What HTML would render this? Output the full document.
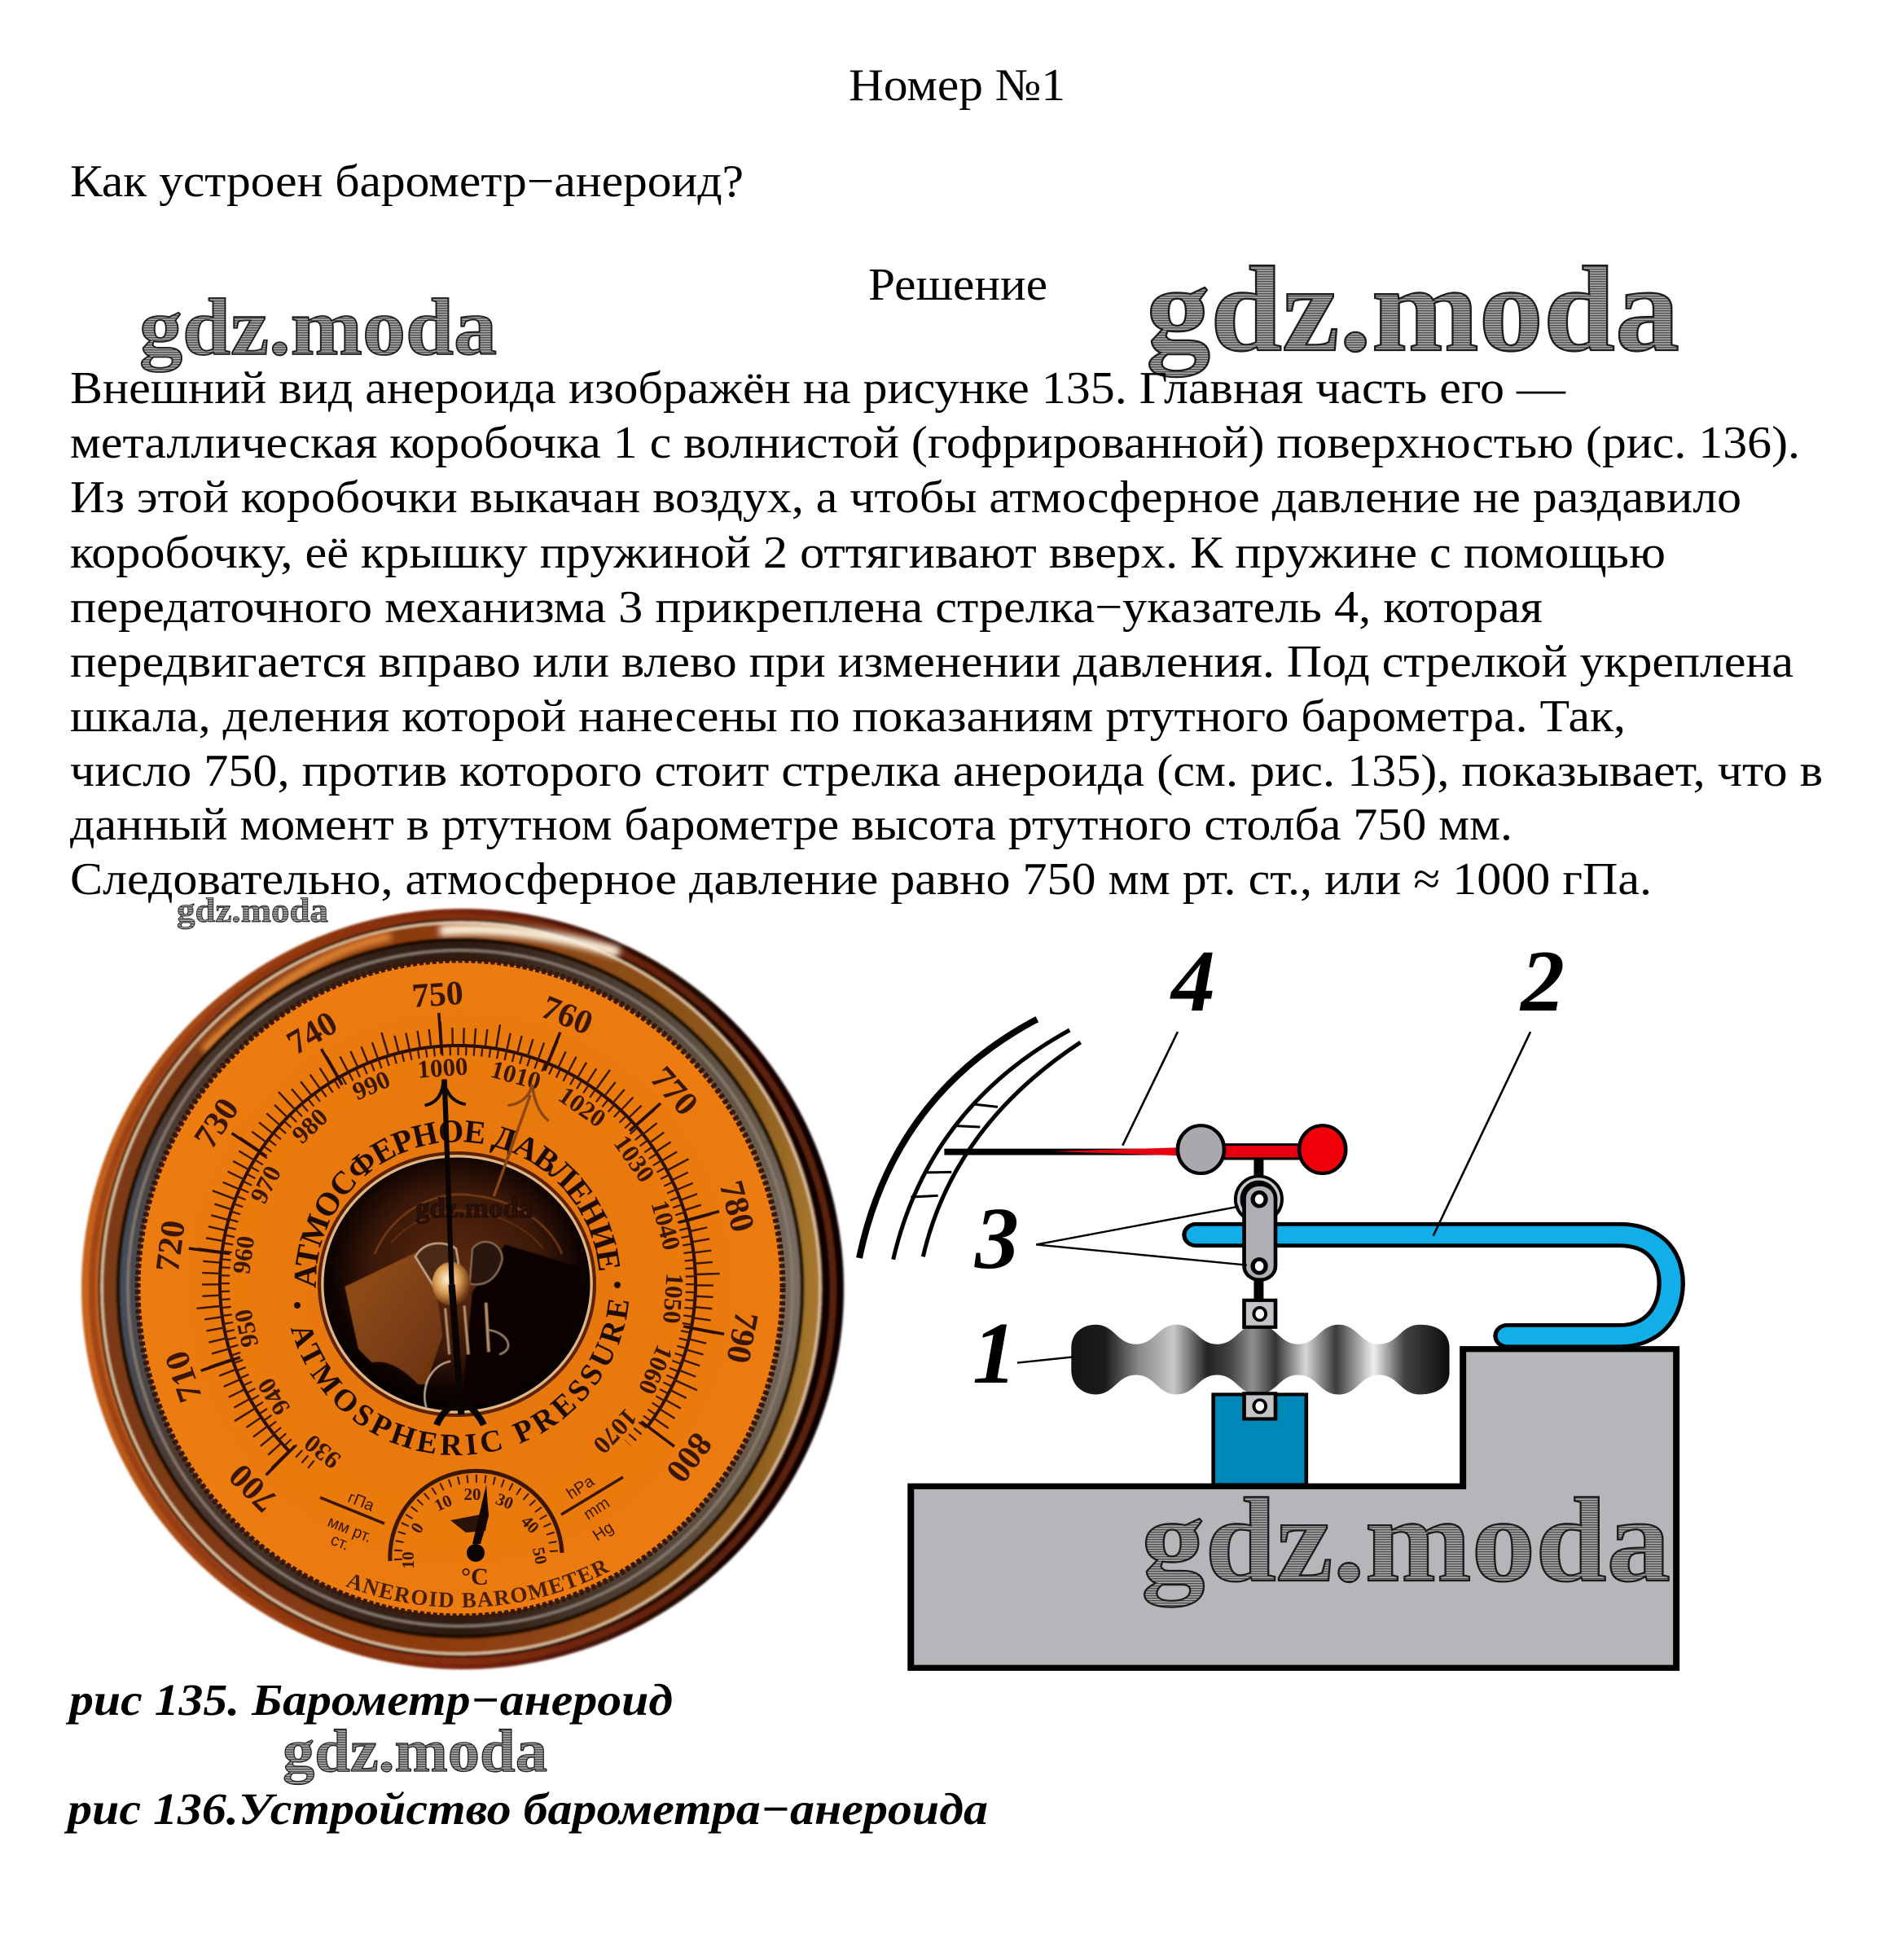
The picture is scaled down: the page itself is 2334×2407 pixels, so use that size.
<!DOCTYPE html>
<html lang="ru"><head><meta charset="utf-8"><title>Номер №1</title>
<style>
html,body{margin:0;padding:0;background:#fff}
svg{display:block}
.t{font-family:"Liberation Serif",serif;font-size:56px;fill:#000}
.c{font-family:"Liberation Serif",serif;font-size:55px;font-weight:bold;font-style:italic;fill:#000}
.n{font-family:"Liberation Serif",serif;font-size:108px;font-weight:bold;font-style:italic;fill:#000}
.w{font-family:"Liberation Serif",serif;font-weight:bold;fill:url(#h);stroke:#1c1c1c;stroke-width:1.8}
.mm{font-family:"Liberation Serif",serif;font-size:42px;font-weight:bold;fill:#3a1606;text-anchor:middle}
.hp{font-family:"Liberation Serif",serif;font-size:31px;font-weight:bold;fill:#3a1606;text-anchor:middle}
.th{font-family:"Liberation Serif",serif;font-size:21px;font-weight:bold;fill:#3a1606;text-anchor:middle}
.sm{font-family:"Liberation Sans",sans-serif;font-size:20px;fill:#3a1606;text-anchor:middle}
.arc{font-family:"Liberation Serif",serif;font-weight:bold;fill:#1e0c04}
</style></head><body>
<svg xmlns="http://www.w3.org/2000/svg" width="2334" height="2407" viewBox="0 0 2334 2407">
<defs>
<pattern id="h" width="4" height="3" patternUnits="userSpaceOnUse"><rect width="4" height="3" fill="#a8a8a8"/><rect width="4" height="1.4" fill="#4e4e4e"/></pattern>
<filter id="b1" x="-5%" y="-5%" width="110%" height="110%"><feGaussianBlur stdDeviation="1.2"/></filter>
<filter id="b4" x="-20%" y="-100%" width="140%" height="300%"><feGaussianBlur stdDeviation="4"/></filter>
<linearGradient id="f1" x1="0" y1="0" x2="1" y2="0"><stop offset="0" stop-color="#c8641c"/><stop offset=".12" stop-color="#a84c16"/><stop offset=".5" stop-color="#7a240a"/><stop offset=".8" stop-color="#1c0705"/><stop offset="1" stop-color="#0c0302"/></linearGradient>
<linearGradient id="f2" x1="0" y1="0" x2="1" y2="0"><stop offset="0" stop-color="#7a3a14"/><stop offset=".5" stop-color="#8e3c10"/><stop offset=".9" stop-color="#8a5a1c"/><stop offset="1" stop-color="#a87a30"/></linearGradient>
<linearGradient id="f3" x1="0" y1="0" x2="1" y2="0"><stop offset="0" stop-color="#445060"/><stop offset=".08" stop-color="#4c3a30"/><stop offset=".5" stop-color="#2c1a10"/><stop offset=".95" stop-color="#6c5e50"/><stop offset="1" stop-color="#7c7064"/></linearGradient>
<radialGradient id="d" cx=".5" cy=".5" r=".55"><stop offset="0" stop-color="#e4760e"/><stop offset=".7" stop-color="#ea7a0c"/><stop offset=".92" stop-color="#ec7c10"/><stop offset="1" stop-color="#c85e06"/></radialGradient>
<radialGradient id="win" cx=".5" cy=".45" r=".52"><stop offset="0" stop-color="#5c2a10"/><stop offset=".62" stop-color="#3a1808"/><stop offset=".88" stop-color="#100402"/><stop offset="1" stop-color="#060100"/></radialGradient>
<linearGradient id="pl" x1="0" y1="0" x2="1" y2="1"><stop offset="0" stop-color="#96501a"/><stop offset="1" stop-color="#6a3210"/></linearGradient>
<radialGradient id="hub" cx=".4" cy=".4" r=".6"><stop offset="0" stop-color="#fff4d8"/><stop offset=".55" stop-color="#d89a50"/><stop offset="1" stop-color="#6a3410"/></radialGradient>
<linearGradient id="box" x1="415" y1="0" x2="1115" y2="0" gradientUnits="userSpaceOnUse">
<stop offset="0" stop-color="#141414"/><stop offset=".09" stop-color="#1c1c1c"/><stop offset=".18" stop-color="#8a8a8a"/><stop offset=".27" stop-color="#c8c8c8"/><stop offset=".36" stop-color="#222"/><stop offset=".42" stop-color="#444"/><stop offset=".48" stop-color="#909090"/><stop offset=".54" stop-color="#333"/><stop offset=".62" stop-color="#d8d8d8"/><stop offset=".7" stop-color="#3a3a3a"/><stop offset=".8" stop-color="#f0f0f0"/><stop offset=".88" stop-color="#444"/><stop offset="1" stop-color="#0c0c0c"/>
</linearGradient>
<path id="ptop" d="M388 1582A174 174 0 1 1 733 1608"/>
<path id="pbot" d="M357 1631A212 212 0 1 0 751 1480"/>
<path id="pan" d="M368 1921A396 396 0 0 0 764 1921"/>
</defs>
<rect width="2334" height="2407" fill="#fff"/>

<!-- watermarks top -->
<text class="w" x="171" y="435" font-size="100" textLength="439" lengthAdjust="spacingAndGlyphs">gdz.moda</text>
<text class="w" x="1407" y="430" font-size="150" textLength="655" lengthAdjust="spacingAndGlyphs" style="stroke-width:2.2">gdz.moda</text>

<!-- text -->
<text class="t" x="1042" y="123" textLength="266" lengthAdjust="spacingAndGlyphs">Номер №1</text>
<text class="t" x="86" y="241" textLength="827" lengthAdjust="spacingAndGlyphs">Как устроен барометр−анероид?</text>
<text class="t" x="1066" y="368" textLength="220" lengthAdjust="spacingAndGlyphs">Решение</text>
<text class="t" x="86" y="495" textLength="1836" lengthAdjust="spacingAndGlyphs">Внешний вид анероида изображён на рисунке 135. Главная часть его —</text>
<text class="t" x="86" y="562" textLength="2124" lengthAdjust="spacingAndGlyphs">металлическая коробочка 1 с волнистой (гофрированной) поверхностью (рис. 136).</text>
<text class="t" x="86" y="629" textLength="2052" lengthAdjust="spacingAndGlyphs">Из этой коробочки выкачан воздух, а чтобы атмосферное давление не раздавило</text>
<text class="t" x="86" y="697" textLength="1959" lengthAdjust="spacingAndGlyphs">коробочку, её крышку пружиной 2 оттягивают вверх. К пружине с помощью</text>
<text class="t" x="86" y="764" textLength="1808" lengthAdjust="spacingAndGlyphs">передаточного механизма 3 прикреплена стрелка−указатель 4, которая</text>
<text class="t" x="86" y="831" textLength="2116" lengthAdjust="spacingAndGlyphs">передвигается вправо или влево при изменении давления. Под стрелкой укреплена</text>
<text class="t" x="86" y="898" textLength="1910" lengthAdjust="spacingAndGlyphs">шкала, деления которой нанесены по показаниям ртутного барометра. Так,</text>
<text class="t" x="86" y="965" textLength="2152" lengthAdjust="spacingAndGlyphs">число 750, против которого стоит стрелка анероида (см. рис. 135), показывает, что в</text>
<text class="t" x="86" y="1031" textLength="1771" lengthAdjust="spacingAndGlyphs">данный момент в ртутном барометре высота ртутного столба 750 мм.</text>
<text class="t" x="86" y="1098" textLength="1942" lengthAdjust="spacingAndGlyphs">Следовательно, атмосферное давление равно 750 мм рт. ст., или ≈ 1000 гПа.</text>

<text class="w" x="217" y="1132" font-size="42" textLength="186" lengthAdjust="spacingAndGlyphs" style="stroke-width:.8">gdz.moda</text>

<!-- barometer frame -->
<g filter="url(#b1)">
<ellipse cx="568" cy="1583" rx="468" ry="467" fill="url(#f1)"/>
<ellipse cx="568" cy="1583" rx="455" ry="457" fill="none" stroke="#8a3410" stroke-width="8" opacity=".6"/>
<ellipse cx="566" cy="1582" rx="441" ry="449" fill="url(#f2)" stroke="#e4c4a0" stroke-width="3"/>
<ellipse cx="566" cy="1582" rx="444" ry="452" fill="none" stroke="#2a0e06" stroke-width="3"/>
<path d="M250 1290Q370 1170 480 1150" fill="none" stroke="#e88a34" stroke-width="10" filter="url(#b4)"/>
<path d="M540 1143Q640 1135 760 1170" fill="none" stroke="#fff4e0" stroke-width="13" filter="url(#b4)"/>
<path d="M300 1910Q560 2060 830 1910" fill="none" stroke="#b44a14" stroke-width="10" filter="url(#b4)"/>
<ellipse cx="565" cy="1582" rx="420" ry="428" fill="url(#f3)" stroke="#1e0a04" stroke-width="5"/>
<ellipse cx="565" cy="1582" rx="408" ry="415" fill="none" stroke="#8a7c70" stroke-width="3"/>
</g>
<ellipse cx="565" cy="1582" rx="395" ry="402" fill="url(#d)"/>
<ellipse cx="565" cy="1582" rx="396" ry="403" fill="none" stroke="#3a1606" stroke-width="7" stroke-dasharray="5 3"/>

<!-- scales -->
<g fill="none" stroke="#3a1606">
<path d="M355.5 1782.5A292 292 0 1 1 795.2 1751.7" stroke-width="4" stroke="#2a0e04"/>
<path d="M347.7 1790.3A303 303 0 1 1 804 1758.3" pathLength="262" stroke-width="22" stroke-dasharray=".45 2.17"/>
<path d="M344.9 1793.1A307 307 0 1 1 807.2 1760.8" pathLength="262" stroke-width="30" stroke-dasharray=".45 12.65"/>
<path d="M382.8 1798.9A286 286 0 1 1 770.5 1771.8" pathLength="274.4" stroke-width="12" stroke-dasharray=".45 1.51"/>
<g transform="translate(562,1576)" stroke-width="3.5" stroke="#2a0e04">
<path d="M0-333V-282" transform="rotate(-135)"/><path d="M0-333V-282" transform="rotate(-108.8)"/><path d="M0-333V-282" transform="rotate(-82.6)"/><path d="M0-333V-282" transform="rotate(-56.4)"/><path d="M0-333V-282" transform="rotate(-30.2)"/><path d="M0-333V-282" transform="rotate(-4)"/><path d="M0-333V-282" transform="rotate(22.2)"/><path d="M0-333V-282" transform="rotate(48.4)"/><path d="M0-333V-282" transform="rotate(74.6)"/><path d="M0-333V-282" transform="rotate(100.8)"/><path d="M0-333V-282" transform="rotate(127)"/>
</g>
<path d="M393 1839L472 1871M689 1860L765 1814" stroke-width="3.5"/>
</g>
<g transform="translate(562,1576)">
<text class="mm" y="-342" transform="rotate(-135)">700</text>
<text class="mm" y="-342" transform="rotate(-108.8)">710</text>
<text class="mm" y="-342" transform="rotate(-82.6)">720</text>
<text class="mm" y="-342" transform="rotate(-56.4)">730</text>
<text class="mm" y="-342" transform="rotate(-30.2)">740</text>
<text class="mm" y="-342" transform="rotate(-4)">750</text>
<text class="mm" y="-342" transform="rotate(22.2)">760</text>
<text class="mm" y="-342" transform="rotate(48.4)">770</text>
<text class="mm" y="-342" transform="rotate(74.6)">780</text>
<text class="mm" y="-342" transform="rotate(100.8)">790</text>
<text class="mm" y="-342" transform="rotate(127)">800</text>
<text class="hp" y="-255" transform="rotate(-141.2)">930</text>
<text class="hp" y="-255" transform="rotate(-121.6)">940</text>
<text class="hp" y="-255" transform="rotate(-102)">950</text>
<text class="hp" y="-255" transform="rotate(-82.4)">960</text>
<text class="hp" y="-255" transform="rotate(-62.8)">970</text>
<text class="hp" y="-255" transform="rotate(-43.2)">980</text>
<text class="hp" y="-255" transform="rotate(-23.6)">990</text>
<text class="hp" y="-255" transform="rotate(-4)">1000</text>
<text class="hp" y="-255" transform="rotate(15.6)">1010</text>
<text class="hp" y="-255" transform="rotate(35.2)">1020</text>
<text class="hp" y="-255" transform="rotate(54.8)">1030</text>
<text class="hp" y="-255" transform="rotate(74.4)">1040</text>
<text class="hp" y="-255" transform="rotate(94)">1050</text>
<text class="hp" y="-255" transform="rotate(113.6)">1060</text>
<text class="hp" y="-255" transform="rotate(133.2)">1070</text>
</g>
<text class="sm" transform="translate(441,1850) rotate(22)">гПа</text>
<text class="sm" transform="translate(427,1884) rotate(22)">мм рт.</text>
<text class="sm" transform="translate(415,1900) rotate(22)">ст.</text>
<text class="sm" transform="translate(716,1832) rotate(-33)">hPa</text>
<text class="sm" transform="translate(736,1858) rotate(-33)">mm</text>
<text class="sm" transform="translate(744,1886) rotate(-33)">Hg</text>

<!-- arc text -->
<text class="arc" font-size="40" letter-spacing="-1.2"><textPath href="#ptop">АТМОСФЕРНОЕ ДАВЛЕНИЕ</textPath></text>
<text class="arc" font-size="38" letter-spacing="5"><textPath href="#pbot">ATMOSPHERIC PRESSURE</textPath></text>
<circle cx="365" cy="1603" r="4" fill="#1e0c04"/><circle cx="758" cy="1578" r="4" fill="#1e0c04"/>
<text class="arc" font-size="27" letter-spacing="1.5" style="fill:#4a2008"><textPath href="#pan" startOffset="62">ANEROID BAROMETER</textPath></text>

<!-- window -->
<ellipse cx="561" cy="1577" rx="169" ry="161" fill="none" stroke="#5a2206" stroke-width="4"/>
<ellipse cx="561" cy="1577" rx="165" ry="157" fill="url(#win)" stroke="#dcb890" stroke-width="3"/>
<g transform="translate(380,1400) scale(.3333)" filter="url(#b1)">
<path d="M240 420C300 280 420 210 540 200C720 200 880 290 930 420" fill="none" stroke="#8a4a20" stroke-width="8" opacity=".7"/>
<path d="M300 380C360 310 440 270 540 260C680 260 800 320 860 400" fill="none" stroke="#7a3e18" stroke-width="6" opacity=".6"/>
<path d="M130 540L390 415L470 570L490 720L430 900L400 900C340 840 290 810 230 820L180 770Z" fill="url(#pl)"/>
<path d="M720 385L1000 470L990 700L940 780L800 860L740 960L560 980L600 560Z" fill="#0a0302"/>
<path d="M390 430C420 370 500 370 540 400L560 520L470 560Z" fill="#4a2a14" stroke="#c8a888" stroke-width="7"/>
<path d="M600 400C640 350 710 380 710 440C690 520 640 540 590 530Z" fill="#2a1408" stroke="#8a7058" stroke-width="6"/>
<path d="M500 620L515 790M570 610L585 790M650 600L660 780" stroke="#b08a6a" stroke-width="10" fill="none"/>
<path d="M660 700C730 710 760 770 700 790" stroke="#a08870" stroke-width="6" fill="none"/>
<path d="M520 815C440 830 410 920 430 985" stroke="#c8b098" stroke-width="7" fill="none"/>
<ellipse cx="522" cy="530" rx="70" ry="80" fill="url(#hub)"/>
</g>
<text class="w" x="510" y="1495" font-size="35" textLength="144" lengthAdjust="spacingAndGlyphs" style="fill:#2a120a;stroke:#140602;stroke-width:.6">gdz.moda</text>

<!-- needles -->
<g transform="translate(0,1080) scale(.689,.638)" fill="none">
<path d="M945 415L880 610" stroke="#8a4612" stroke-width="5"/>
<path d="M905 435C930 432 945 415 948 395C952 425 960 450 978 465" stroke="#8a4612" stroke-width="5"/>
<path d="M792 385L805 780" stroke="#0a0402" stroke-width="9"/>
<path d="M805 780L822 1030" stroke="#0a0402" stroke-width="12"/>
<path d="M757 435C780 430 790 410 790 385C795 410 805 428 830 433" stroke="#0a0402" stroke-width="6"/>
<path d="M778 1050C790 1020 810 1010 820 1000C835 1012 850 1025 862 1050" stroke="#0a0402" stroke-width="12"/>
</g>

<!-- thermometer -->
<g fill="none" stroke="#3a1606">
<path d="M479 1917A105.6 105.6 0 0 1 690 1907" stroke-width="5"/>
<path d="M489 1916A95.6 95.6 0 0 1 680 1907" stroke-width="10" stroke-dasharray="2 9"/>
</g>
<text class="th" transform="translate(508,1916) rotate(-90)">10</text>
<text class="th" transform="translate(518,1880) rotate(-58)">0</text>
<text class="th" transform="translate(547,1852) rotate(-25)">10</text>
<text class="th" transform="translate(580,1842)">20</text>
<text class="th" transform="translate(617,1850) rotate(22)">30</text>
<text class="th" transform="translate(646,1877) rotate(45)">40</text>
<text class="th" transform="translate(656,1912) rotate(78)">50</text>
<path d="M553 1867L600 1858L596 1880L572 1882Z" fill="#2a1206"/>
<path d="M597 1823L600 1862L590 1896L580 1896Z" fill="#120602"/>
<circle cx="584" cy="1907" r="11" fill="#0a0402"/>
<text transform="translate(583,1946)" font-family="Liberation Serif,serif" font-size="30" font-weight="bold" fill="#3a1606" text-anchor="middle">°C</text>

<!-- diagram scale arcs -->
<g transform="translate(1040,1250) scale(.3333)" fill="none" stroke="#000">
<path d="M45 885Q170 285 700 5" stroke-width="24"/>
<path d="M170 890Q300 330 820 45" stroke-width="15"/>
<path d="M280 880Q390 400 860 90" stroke-width="15"/>
<path d="M465 318L555 328M400 398L490 402M285 570L385 568M235 660L335 655" stroke-width="9"/>
</g>

<!-- diagram -->
<g transform="translate(1040,1140) scale(.6633,.5995)">
<path d="M118 1143H1140V862H1535V1515H118Z" fill="#b6b6ba" stroke="#000" stroke-width="12"/>
<rect x="678" y="955" width="172" height="185" fill="#0088b8" stroke="#000" stroke-width="7"/>
<path d="M646 628H1430C1500 628 1528 680 1525 735C1522 790 1490 835 1430 835H1222" fill="none" stroke="#000" stroke-width="52" stroke-linecap="round"/>
<path d="M646 628H1430C1500 628 1528 680 1525 735C1522 790 1490 835 1430 835H1222" fill="none" stroke="#12aeea" stroke-width="36" stroke-linecap="round"/>
<path d="M762 470V520M762 720V765" stroke="#000" stroke-width="18" fill="none"/>
<path d="M415 860C415 825 440 812 460 812C495 812 500 852 535 852C570 852 575 812 610 812C645 812 650 852 685 852C720 852 725 812 760 812C795 812 800 852 835 852C870 852 875 812 910 812C945 812 950 852 985 852C1020 852 1025 812 1060 812C1095 812 1115 830 1115 860L1115 910C1115 940 1090 955 1060 955C1025 955 1020 915 985 915C950 915 945 955 910 955C875 955 870 915 835 915C800 915 795 955 760 955C725 955 720 915 685 915C650 915 645 955 610 955C575 955 570 915 535 915C500 915 495 955 460 955C440 955 415 940 415 905Z" fill="url(#box)"/>
<rect x="735" y="762" width="58" height="55" fill="#c4c4c8" stroke="#000" stroke-width="7"/>
<rect x="735" y="953" width="58" height="52" fill="#c4c4c8" stroke="#000" stroke-width="7"/>
<ellipse cx="764" cy="790" rx="11" ry="13" fill="#fff" stroke="#000" stroke-width="6"/>
<ellipse cx="764" cy="979" rx="11" ry="13" fill="#fff" stroke="#000" stroke-width="6"/>
<ellipse cx="762" cy="555" rx="43" ry="47" fill="#c8c8cc" stroke="#000" stroke-width="6"/>
<ellipse cx="762" cy="555" rx="32" ry="36" fill="#9a9aa0" stroke="#000" stroke-width="5"/>
<rect x="735" y="525" width="58" height="195" rx="28" fill="#aeaeb4" stroke="#000" stroke-width="7"/>
<ellipse cx="763" cy="555" rx="12" ry="14" fill="#fff" stroke="#000" stroke-width="8"/>
<ellipse cx="763" cy="692" rx="12" ry="14" fill="#fff" stroke="#000" stroke-width="8"/>
<path d="M180 458H620" stroke="#000" stroke-width="13"/>
<path d="M380 457L620 449V466Z" fill="#e80010"/>
<rect x="690" y="443" width="160" height="29" fill="#e80010" stroke="#000" stroke-width="5"/>
<ellipse cx="655" cy="453" rx="43" ry="49" fill="#a8a8ae" stroke="#000" stroke-width="7"/>
<ellipse cx="880" cy="453" rx="43" ry="49" fill="#f00008" stroke="#000" stroke-width="7"/>
<path d="M612 212L510 445M1265 212L1085 630M350 648L725 570M350 648L740 690M315 890L420 878" fill="none" stroke="#000" stroke-width="4"/>
</g>
<text class="n" x="1438" y="1241">4</text>
<text class="n" x="1867" y="1241">2</text>
<text class="n" x="1197" y="1557">3</text>
<text class="n" x="1194" y="1698">1</text>
<text class="w" x="1401" y="1941" font-size="148" textLength="650" lengthAdjust="spacingAndGlyphs" style="stroke-width:2.2">gdz.moda</text>

<!-- captions -->
<text class="c" x="85" y="2106" textLength="741" lengthAdjust="spacingAndGlyphs">рис 135. Барометр−анероид</text>
<text class="w" x="347" y="2175" font-size="74" textLength="325" lengthAdjust="spacingAndGlyphs" style="stroke-width:1.2">gdz.moda</text>
<text class="c" x="83" y="2240" textLength="1130" lengthAdjust="spacingAndGlyphs">рис 136.Устройство барометра−анероида</text>
</svg>
</body></html>
